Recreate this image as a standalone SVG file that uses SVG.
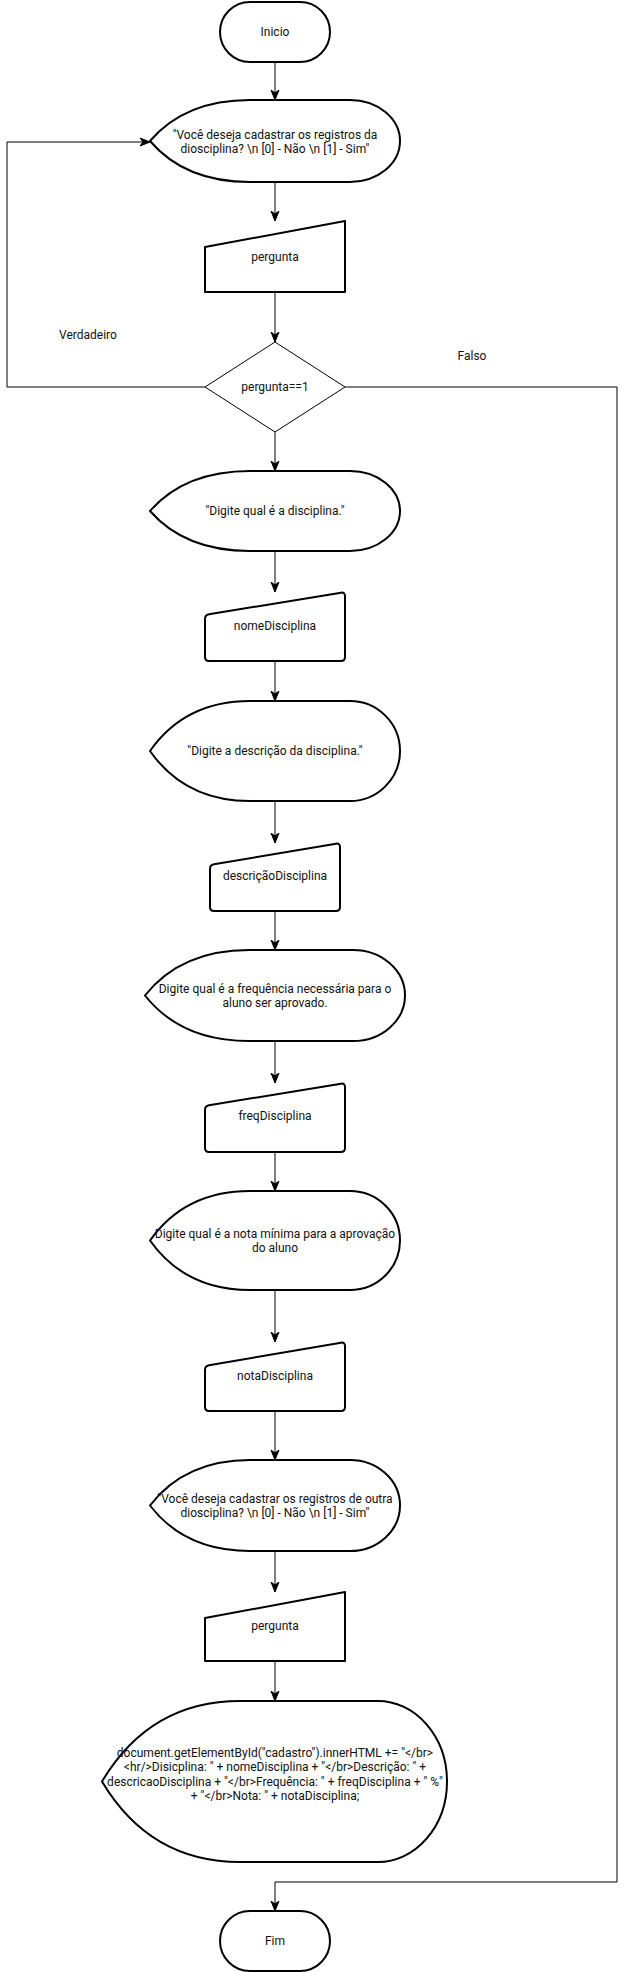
<svg xmlns="http://www.w3.org/2000/svg" width="627" height="1972" viewBox="0 0 627 1972">
<style>
.n{fill:#fff;stroke:#000;stroke-width:2;stroke-linejoin:round}
.d{fill:#fff;stroke:#000;stroke-width:1}
.t{font-family:Roboto,"Liberation Sans",sans-serif;font-size:12px;fill:#111;text-anchor:middle}
.c{fill:none;stroke:#000;stroke-width:1}
</style>
<defs>
<marker id="ah" viewBox="0 0 10 10" refX="10" refY="5" markerWidth="10" markerHeight="10" markerUnits="userSpaceOnUse" orient="auto">
<path d="M0,1 L10,5 L0,9 L3,5 Z" fill="#000" stroke="#000" stroke-width="1"/>
</marker>
</defs>
<rect width="627" height="1972" fill="#fff"/>
<g id="connectors">
<path class="c" marker-end="url(#ah)" d="M275,62 L275,100"/>
<path class="c" marker-end="url(#ah)" d="M275,182 L275,221"/>
<path class="c" marker-end="url(#ah)" d="M275,292 L275,342"/>
<path class="c" marker-end="url(#ah)" d="M205,387 L7,387 L7,142 L150,142"/>
<path class="c" marker-end="url(#ah)" d="M345,387 L617,387 L617,1882 L275,1882 L275,1911"/>
<path class="c" marker-end="url(#ah)" d="M275,432 L275,471"/>
<path class="c" marker-end="url(#ah)" d="M275,551 L275,592"/>
<path class="c" marker-end="url(#ah)" d="M275,661 L275,701"/>
<path class="c" marker-end="url(#ah)" d="M275,801 L275,843"/>
<path class="c" marker-end="url(#ah)" d="M275,911 L275,950"/>
<path class="c" marker-end="url(#ah)" d="M275,1041 L275,1083"/>
<path class="c" marker-end="url(#ah)" d="M275,1152 L275,1191"/>
<path class="c" marker-end="url(#ah)" d="M275,1290 L275,1342"/>
<path class="c" marker-end="url(#ah)" d="M275,1411 L275,1460"/>
<path class="c" marker-end="url(#ah)" d="M275,1551 L275,1592"/>
<path class="c" marker-end="url(#ah)" d="M275,1661 L275,1701"/>
<text class="t" x="88" y="339">Verdadeiro</text>
<text class="t" x="472" y="360">Falso</text>
</g>
<g id="inicio">
<rect class="n" x="220" y="2" width="110" height="60" rx="30" ry="30"/>
<text class="t" x="275" y="36">Inicio</text>
</g>
<g id="msg1">
<path class="n" d="M150,141 Q185,100 250,100 L350,100 A50,41 0 0 1 350,182 L250,182 Q185,182 150,141 Z"/>
<text class="t" x="275" y="139">"Você deseja cadastrar os registros da</text>
<text class="t" x="275" y="153">diosciplina? \n [0] - Não \n [1] - Sim"</text>
</g>
<g id="in1">
<path class="n" d="M205,247 L345,221 L345,292 L205,292 Z"/>
<text class="t" x="275" y="261">pergunta</text>
</g>
<g id="dec">
<path class="d" d="M275,342 L345,387 L275,432 L205,387 Z"/>
<text class="t" x="275" y="391">pergunta==1</text>
</g>
<g id="msg2">
<path class="n" d="M150,511 Q185,471 250,471 L350,471 A50,40 0 0 1 350,551 L250,551 Q185,551 150,511 Z"/>
<text class="t" x="275" y="515">"Digite qual é a disciplina."</text>
</g>
<g id="in2">
<path class="n" d="M205,619 Q205,615 209,614.3 L341,592.7 Q345,592 345,596 L345,657 Q345,661 341,661 L209,661 Q205,661 205,657 Z"/>
<text class="t" x="275" y="630">nomeDisciplina</text>
</g>
<g id="msg3">
<path class="n" d="M150,751 Q185,701 250,701 L350,701 A50,50 0 0 1 350,801 L250,801 Q185,801 150,751 Z"/>
<text class="t" x="275" y="755">"Digite a descrição da disciplina."</text>
</g>
<g id="in3">
<path class="n" d="M210,869 Q210,865 214,864.3 L336,843.7 Q340,843 340,847 L340,907 Q340,911 336,911 L214,911 Q210,911 210,907 Z"/>
<text class="t" x="275" y="880">descriçãoDisciplina</text>
</g>
<g id="msg4">
<path class="n" d="M145,995.5 Q181,950 249,950 L353,950 A52,45.5 0 0 1 353,1041 L249,1041 Q181,1041 145,995.5 Z"/>
<text class="t" x="275" y="993">Digite qual é a frequência necessária para o</text>
<text class="t" x="275" y="1007">aluno ser aprovado.</text>
</g>
<g id="in4">
<path class="n" d="M205,1110 Q205,1106 209,1105.3 L341,1083.7 Q345,1083 345,1087 L345,1148 Q345,1152 341,1152 L209,1152 Q205,1152 205,1148 Z"/>
<text class="t" x="275" y="1120">freqDisciplina</text>
</g>
<g id="msg5">
<path class="n" d="M150,1240.5 Q185,1191 250,1191 L350,1191 A50,49.5 0 0 1 350,1290 L250,1290 Q185,1290 150,1240.5 Z"/>
<text class="t" x="275" y="1237.5">Digite qual é a nota mínima para a aprovação</text>
<text class="t" x="275" y="1251.5">do aluno</text>
</g>
<g id="in5">
<path class="n" d="M205,1370 Q205,1366 209,1365.3 L341,1342.7 Q345,1342 345,1346 L345,1407 Q345,1411 341,1411 L209,1411 Q205,1411 205,1407 Z"/>
<text class="t" x="275" y="1380">notaDisciplina</text>
</g>
<g id="msg6">
<path class="n" d="M150,1505.5 Q185,1460 250,1460 L350,1460 A50,45.5 0 0 1 350,1551 L250,1551 Q185,1551 150,1505.5 Z"/>
<text class="t" x="275" y="1502.5">"Você deseja cadastrar os registros de outra</text>
<text class="t" x="275" y="1516.5">diosciplina? \n [0] - Não \n [1] - Sim"</text>
</g>
<g id="in6">
<path class="n" d="M205,1618 L345,1592 L345,1661 L205,1661 Z"/>
<text class="t" x="275" y="1630">pergunta</text>
</g>
<g id="out">
<path class="n" d="M102,1781.5 Q150,1701 240,1701 L378,1701 A69,80.5 0 0 1 378,1862 L240,1862 Q150,1862 102,1781.5 Z"/>
<text class="t" x="275" y="1757">document.getElementById("cadastro").innerHTML += "&lt;/br&gt;</text>
<text class="t" x="275" y="1771.3">&lt;hr/&gt;Disicplina: " + nomeDisciplina + "&lt;/br&gt;Descrição: " +</text>
<text class="t" x="275" y="1785.6">descricaoDisciplina + "&lt;/br&gt;Frequência: " + freqDisciplina + " %"</text>
<text class="t" x="275" y="1800">+ "&lt;/br&gt;Nota: " + notaDisciplina;</text>
</g>
<g id="fim">
<rect class="n" x="220" y="1911" width="110" height="60" rx="30" ry="30"/>
<text class="t" x="275" y="1945">Fim</text>
</g>
</svg>
